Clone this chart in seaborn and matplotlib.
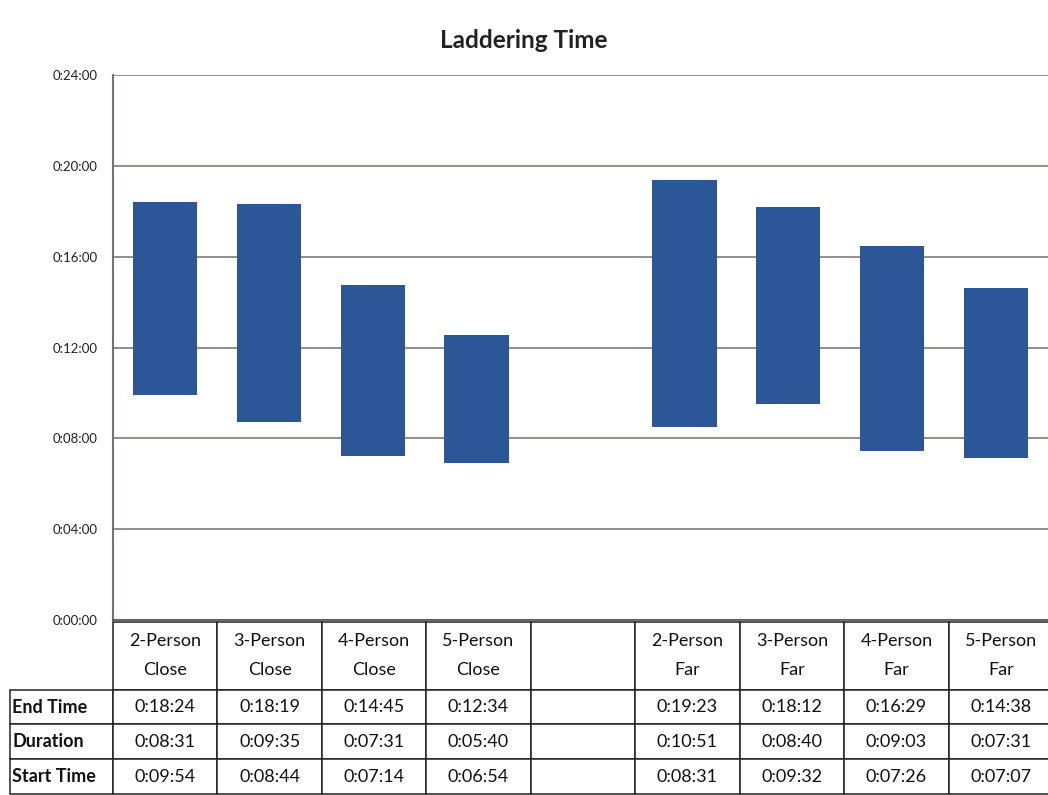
import matplotlib
matplotlib.use("Agg")
import matplotlib.pyplot as plt
import seaborn as sns
import pandas as pd
from matplotlib.ticker import FuncFormatter, MultipleLocator

categories = ["2-Person\nClose", "3-Person\nClose", "4-Person\nClose", "5-Person\nClose",
              "", "2-Person\nFar", "3-Person\nFar", "4-Person\nFar", "5-Person\nFar"]
end_times = ["0:18:24", "0:18:19", "0:14:45", "0:12:34", "",
             "0:19:23", "0:18:12", "0:16:29", "0:14:38"]
durations = ["0:08:31", "0:09:35", "0:07:31", "0:05:40", "",
             "0:10:51", "0:08:40", "0:09:03", "0:07:31"]
start_times = ["0:09:54", "0:08:44", "0:07:14", "0:06:54", "",
               "0:08:31", "0:09:32", "0:07:26", "0:07:07"]
row_labels = ["End Time", "Duration", "Start Time"]


def to_minutes(s):
    h, m, sec = s.split(":")
    return int(h) * 60 + int(m) + int(sec) / 60


rows = []
for cat, st, en in zip(categories, start_times, end_times):
    if st:
        rows.append({"cat": cat, "start": to_minutes(st), "end": to_minutes(en)})
df = pd.DataFrame(rows)
df["span"] = df["end"] - df["start"]

sns.set_style("white")
plt.rcParams["font.family"] = ["Lato", "DejaVu Sans"]

fig = plt.figure(figsize=(10.48, 7.95), dpi=100)
ax = fig.add_axes([113 / 1048, 1 - 620 / 795, 935 / 1048, 545 / 795])

bar_color = "#2B5698"
sns.barplot(data=df, x="cat", y="span", order=categories, bottom=df["start"].values,
            color=bar_color, saturation=1, width=0.62, linewidth=0, ax=ax, zorder=3)

grid_color = "#8C8282"
ax.set_ylim(0, 24)
ax.set_xlim(-0.5, len(categories) - 0.5)
ax.yaxis.set_major_locator(MultipleLocator(4))
ax.yaxis.set_major_formatter(FuncFormatter(lambda v, p: f"0:{int(v):02d}:00"))
ax.yaxis.grid(True, color=grid_color, lw=1.3, zorder=0)
ax.tick_params(axis="y", labelsize=9.5, pad=11, length=0, colors="#222222")
ax.set_xticks([])
ax.set_xlabel("")
ax.set_ylabel("")
for side in ["top", "right"]:
    ax.spines[side].set_visible(False)
ax.spines["left"].set_color("#7A7070")
ax.spines["left"].set_linewidth(1.5)
ax.spines["bottom"].set_color("#555555")
ax.spines["bottom"].set_linewidth(1.2)

fig.text(0.5, 1 - 40 / 795, "Laddering Time", ha="center", va="center",
         fontsize=17.5, fontweight="bold", color="#222222")

# data table under the plot (first column holds the row labels)
cell_text = [[lab] + vals for lab, vals in zip(row_labels, [end_times, durations, start_times])]
tbl = ax.table(cellText=cell_text, colLabels=[""] + categories, cellLoc="center",
               bbox=[-103 / 935, -174 / 545, 1043 / 935, 172 / 545])
tbl.auto_set_font_size(False)
tbl.set_fontsize(13)
for (r, c), cell in tbl.get_celld().items():
    cell.set_edgecolor("#222222")
    cell.set_linewidth(1.1)
    cell.set_width(103 if c == 0 else 104.5)
    cell.set_height(68 if r == 0 else 35)
    txt = cell.get_text()
    txt.set_color("#111111")
    if r == 0:
        txt.set_linespacing(2.0)
    if c == 0:
        if r == 0:
            cell.visible_edges = ""
        txt.set_fontweight("bold")
        txt.set_horizontalalignment("left")
        cell._loc = "left"
        cell.PAD = 0.02

fig.savefig("out.png", dpi=100)
